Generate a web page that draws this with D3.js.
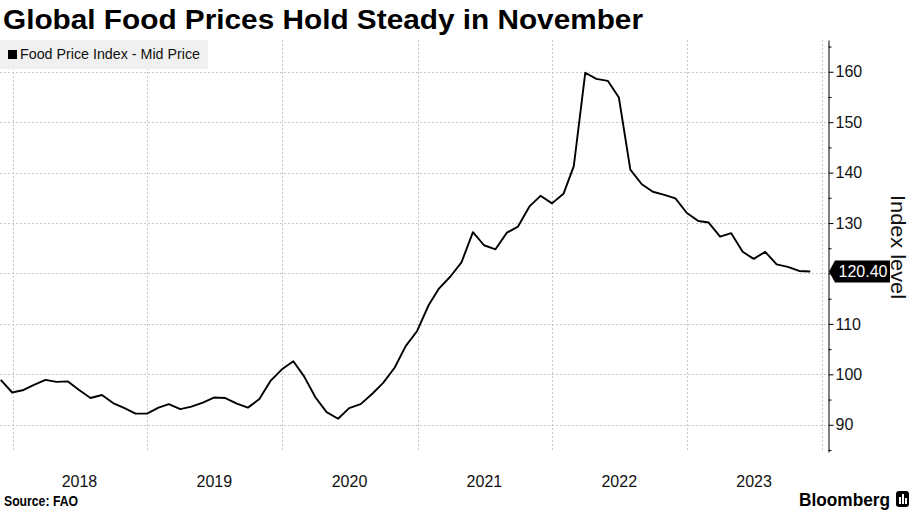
<!DOCTYPE html>
<html>
<head>
<meta charset="utf-8">
<script src="https://cdn.jsdelivr.net/npm/d3@7"></script>
<style>
  html, body { margin: 0; padding: 0; background: #fff; }
  svg { display: block; }
  text { font-family: "Liberation Sans", Arial, sans-serif; }
</style>
</head>
<body>
<svg id="chart" width="911" height="512"></svg>
<script>
// ---- Data ----
const title = "Global Food Prices Hold Steady in November";
const seriesName = "Food Price Index - Mid Price";
const axisTitle = "Index level";
const sourceText = "Source: FAO";
const brandText = "Bloomberg";

const months = [
  "2017-11","2017-12",
  "2018-01","2018-02","2018-03","2018-04","2018-05","2018-06","2018-07","2018-08","2018-09","2018-10","2018-11","2018-12",
  "2019-01","2019-02","2019-03","2019-04","2019-05","2019-06","2019-07","2019-08","2019-09","2019-10","2019-11","2019-12",
  "2020-01","2020-02","2020-03","2020-04","2020-05","2020-06","2020-07","2020-08","2020-09","2020-10","2020-11","2020-12",
  "2021-01","2021-02","2021-03","2021-04","2021-05","2021-06","2021-07","2021-08","2021-09","2021-10","2021-11","2021-12",
  "2022-01","2022-02","2022-03","2022-04","2022-05","2022-06","2022-07","2022-08","2022-09","2022-10","2022-11","2022-12",
  "2023-01","2023-02","2023-03","2023-04","2023-05","2023-06","2023-07","2023-08","2023-09","2023-10","2023-11"
];
const foodPriceIndex = [
  98.9, 96.4,
  96.9, 97.9, 98.9, 98.5, 98.6, 96.9, 95.3, 95.9, 94.3, 93.3, 92.2, 92.2,
  93.4, 94.1, 93.1, 93.6, 94.4, 95.4, 95.3, 94.2, 93.4, 95.1, 98.7, 101.0,
  102.6, 99.6, 95.4, 92.5, 91.2, 93.3, 94.1, 96.1, 98.3, 101.3, 105.6, 108.6,
  113.7, 117.0, 119.4, 122.2, 128.2, 125.6, 124.8, 128.1, 129.3, 133.3, 135.4, 133.9,
  135.8, 141.3, 159.8, 158.6, 158.2, 154.9, 140.6, 137.7, 136.2, 135.6, 134.9, 132.0,
  130.4, 130.1, 127.3, 128.0, 124.3, 122.9, 124.3, 121.8, 121.3, 120.5, 120.4
];
const yTicks = [90, 100, 110, 120, 130, 140, 150, 160];
const yMinorTicks = [85, 95, 105, 115, 125, 135, 145, 155, 165];
const yearLabels = [2018, 2019, 2020, 2021, 2022, 2023];
const yearGridlines = [2018, 2019, 2020, 2021, 2022, 2023, 2024];
const lastValueLabel = "120.40";

// ---- Layout ----
const svg = d3.select("#chart");
const plot = { left: 0, right: 828, top: 40, bottom: 452 };

// month-end dates
const parseMonth = d3.utcParse("%Y-%m");
const monthEnd = s => d3.utcDay.offset(d3.utcMonth.offset(parseMonth(s), 1), -1);
const data = months.map((m, i) => ({ date: monthEnd(m), value: foodPriceIndex[i] }));

const x = d3.scaleUtc()
  .domain([new Date(Date.UTC(2017, 10, 28)), new Date(Date.UTC(2024, 0, 17))])
  .range([plot.left, plot.right]);
const y = d3.scaleLinear()
  .domain([84.6, 166.3])
  .range([plot.bottom, plot.top]);

// ---- Title ----
svg.append("text")
  .attr("x", 3).attr("y", 29)
  .attr("font-size", 28).attr("font-weight", "bold")
  .attr("textLength", 640).attr("lengthAdjust", "spacingAndGlyphs")
  .attr("fill", "#000")
  .text(title);

// ---- Gridlines ----
const grid = svg.append("g").attr("stroke", "#c8c8c8").attr("stroke-width", 1)
  .attr("stroke-dasharray", "2,2").attr("fill", "none");
grid.selectAll("line.h").data(yTicks).join("line").attr("class", "h")
  .attr("x1", plot.left).attr("x2", plot.right)
  .attr("y1", d => Math.round(y(d)) + 0.5).attr("y2", d => Math.round(y(d)) + 0.5);
grid.selectAll("line.v").data(yearGridlines).join("line").attr("class", "v")
  .attr("x1", d => Math.round(x(new Date(Date.UTC(d, 0, 1)))) + 0.5)
  .attr("x2", d => Math.round(x(new Date(Date.UTC(d, 0, 1)))) + 0.5)
  .attr("y1", plot.top).attr("y2", plot.bottom);

// ---- Legend ----
const legend = svg.append("g");
legend.append("rect").attr("x", 0).attr("y", 40).attr("width", 208).attr("height", 29)
  .attr("fill", "#f0f0f0");
legend.append("rect").attr("x", 8).attr("y", 50).attr("width", 9).attr("height", 9).attr("fill", "#000");
legend.append("text").attr("x", 20).attr("y", 59)
  .attr("font-size", 14).attr("fill", "#111")
  .attr("textLength", 180).attr("lengthAdjust", "spacingAndGlyphs")
  .text(seriesName);

// ---- Line ----
svg.append("path").datum(data)
  .attr("fill", "none").attr("stroke", "#000").attr("stroke-width", 1.9)
  .attr("stroke-linejoin", "round")
  .attr("d", d3.line().x(d => x(d.date)).y(d => y(d.value)));

// ---- Right axis ----
const lastValue = foodPriceIndex[foodPriceIndex.length - 1];
const lastY = y(lastValue);
const axisG = svg.append("g").attr("transform", `translate(${plot.right + 0.5},0)`);
axisG.call(d3.axisRight(y).tickValues(yTicks).tickSize(5).tickSizeOuter(0).tickPadding(2)
  .tickFormat(d3.format("d")));
axisG.selectAll("text").attr("font-size", 16).attr("fill", "#111")
  .attr("font-family", "Liberation Sans, Arial, sans-serif");
axisG.selectAll("line, path").attr("stroke", "#000");
// the tick label hidden behind the last-value callout in the reference
axisG.selectAll(".tick").filter(d => Math.abs(y(d) - lastY) < 14).select("text").remove();
const minorG = svg.append("g").attr("transform", `translate(${plot.right + 0.5},0)`);
minorG.call(d3.axisRight(y).tickValues(yMinorTicks).tickSize(3).tickSizeOuter(0).tickFormat(""));
minorG.select(".domain").remove();
minorG.selectAll("line").attr("stroke", "#000");

// Axis title
svg.append("text")
  .attr("transform", `translate(891,247) rotate(90)`)
  .attr("text-anchor", "middle")
  .attr("font-size", 20).attr("fill", "#111")
  .attr("textLength", 104).attr("lengthAdjust", "spacingAndGlyphs")
  .text(axisTitle);

// Last value callout
const cx0 = plot.right + 1;
svg.append("path")
  .attr("d", `M${cx0},${lastY} L${cx0 + 6},${lastY - 11} L${cx0 + 61},${lastY - 11} L${cx0 + 61},${lastY + 11} L${cx0 + 6},${lastY + 11} Z`)
  .attr("fill", "#000");
svg.append("text").attr("x", cx0 + 34).attr("y", lastY + 6)
  .attr("text-anchor", "middle").attr("font-size", 16).attr("fill", "#fff")
  .text(lastValueLabel);

// ---- Year labels ----
svg.append("g").selectAll("text").data(yearLabels).join("text")
  .attr("x", d => x(new Date(Date.UTC(d, 6, 1))))
  .attr("y", 487)
  .attr("text-anchor", "middle").attr("font-size", 16).attr("fill", "#111")
  .text(d => d);

// ---- Footer ----
svg.append("text").attr("x", 4).attr("y", 506)
  .attr("font-size", 14).attr("font-weight", "bold").attr("fill", "#000")
  .attr("textLength", 74).attr("lengthAdjust", "spacingAndGlyphs")
  .text(sourceText);
svg.append("text").attr("x", 799).attr("y", 506)
  .attr("font-size", 19).attr("font-weight", "bold").attr("fill", "#000")
  .attr("textLength", 91).attr("lengthAdjust", "spacingAndGlyphs")
  .text(brandText);
const logo = svg.append("g");
logo.append("rect").attr("x", 896).attr("y", 491).attr("width", 13).attr("height", 16)
  .attr("rx", 3).attr("fill", "#000");
logo.append("rect").attr("x", 899).attr("y", 497).attr("width", 2).attr("height", 7).attr("fill", "#fff");
logo.append("rect").attr("x", 902).attr("y", 494).attr("width", 2).attr("height", 10).attr("fill", "#fff");
logo.append("rect").attr("x", 905).attr("y", 498).attr("width", 2).attr("height", 6).attr("fill", "#fff");
</script>
</body>
</html>
